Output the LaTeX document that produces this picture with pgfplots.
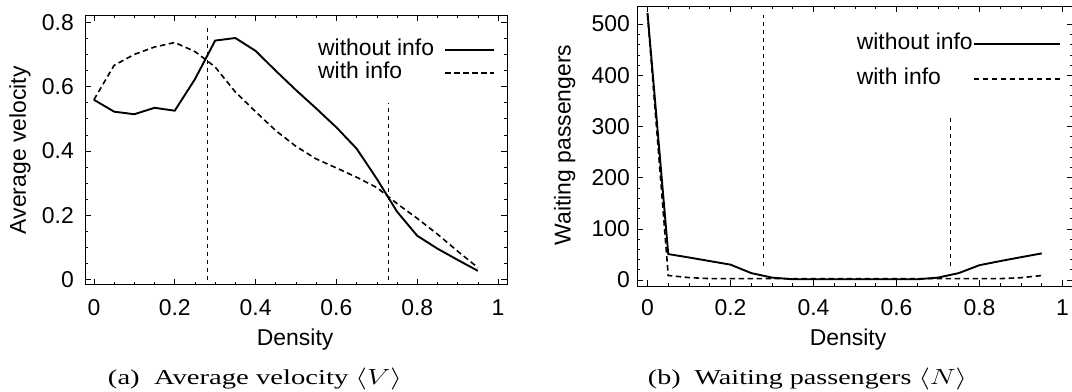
\documentclass[border=0pt]{standalone}
\usepackage{fontspec}
\setmainfont{Liberation Sans}
\newfontfamily\capfont{Liberation Serif}
\usepackage{pgfplots}
\pgfplotsset{compat=1.18}
\pgfplotstableread{
x woinfo winfo
0    0.559 0.559
0.05 0.522 0.666
0.10 0.514 0.700
0.15 0.534 0.723
0.20 0.525 0.737
0.25 0.623 0.709
0.30 0.743 0.661
0.35 0.751 0.583
0.40 0.711 0.522
0.45 0.649 0.463
0.50 0.589 0.414
0.55 0.532 0.375
0.60 0.473 0.347
0.65 0.407 0.318
0.70 0.313 0.286
0.75 0.211 0.236
0.80 0.136 0.190
0.85 0.096 0.141
0.90 0.061 0.088
0.95 0.027 0.037
}\velocity
\pgfplotstableread{
x woinfo winfo
0    522 520
0.05 50.7 8.8
0.10 44 4.7
0.15 37 2.7
0.20 30 2.7
0.25 13.5 2.7
0.30 4.7 2.7
0.35 1.5 2.7
0.40 1.5 2.7
0.45 1.5 2.7
0.50 1.5 2.7
0.55 1.5 2.7
0.60 1.5 2.7
0.65 1.5 2.7
0.70 4.7 2.7
0.75 13.5 2.7
0.80 29 2.7
0.85 37 2.7
0.90 44.6 4.5
0.95 52 8.8
}\waiting
\begin{document}
\begin{tikzpicture}
\path[use as bounding box] (0bp,0bp) rectangle (1072bp,392bp);
\clip (0bp,0bp) rectangle (1072bp,392bp);
\pgfplotsset{
  gp/.style={
    scale only axis,
    axis line style={line width=1bp},
    tick style={line width=0.6bp, black},
    tick align=inside,
    major tick length=6bp, minor tick length=3bp,
    /pgf/number format/assume math mode=true,
    /pgf/number format/fixed,
    tick label style={font=\fontsize{23}{25}\selectfont, inner sep=0pt},
    label style={font=\fontsize{23}{25}\selectfont},
    xmin=-0.022, xmax=1.022,
    xtick={0,0.2,...,1.01},
    xticklabels={0,0.2,0.4,0.6,0.8,1},
    minor x tick num=3,
    xlabel={Density},
    legend cell align=left,
    legend plot pos=right,
    legend style={draw=none, fill=none, font=\fontsize{23}{25}\selectfont,
      nodes={inner sep=0pt, text height=16bp, text depth=5bp}},
    solidline/.style={black, line width=1.9bp},
    dashline/.style={black, line width=1.6bp, dash pattern=on 5.5bp off 3.5bp},
    vline/.style={black, line width=1bp, dash pattern=on 4bp off 4bp},
  }
}
% (a)
\begin{axis}[gp,
  at={(85bp,107bp)}, anchor=south west, width=422bp, height=269.5bp,
  ymin=-0.017, ymax=0.821,
  ytick={0,0.2,0.4,0.6,0.8},
  yticklabels={0,0.2,0.4,0.6,0.8},
  minor y tick num=3,
  yticklabel style={anchor=east, xshift=-11bp},
  xticklabel style={anchor=center, yshift=-23bp},
  ylabel={Average velocity},
  ylabel style={at={(axis description cs:-0.154,0.5)}, anchor=center},
  xlabel style={at={(axis description cs:0.498,-0.204)}, anchor=center},
  legend image code/.code={\draw[#1] (0bp,0bp) -- (49bp,0bp);},
  legend style={at={(axis description cs:0.979,0.920)}, anchor=north east,
    row sep=2bp, /tikz/every odd column/.append style={column sep=10bp}},
]
\addplot[solidline] table[x=x,y=woinfo] {\velocity};
\addlegendentry{without info}
\addplot[dashline] table[x=x,y=winfo] {\velocity};
\addlegendentry{with info}
\addplot[vline, forget plot] coordinates {(0.28,0) (0.28,0.79)};
\addplot[vline, forget plot] coordinates {(0.729,0) (0.729,0.548)};
\end{axis}
% (b)
\begin{axis}[gp,
  at={(637bp,106bp)}, anchor=south west, width=436bp, height=279.8bp,
  xmin=-0.0253, xmax=1.0253,
  ymin=-11.7, ymax=535,
  ytick={0,100,200,300,400,500},
  minor y tick num=4,
  yticklabel style={anchor=east, xshift=-7bp},
  xticklabel style={anchor=center, yshift=-21.6bp},
  ylabel={Waiting passengers},
  ylabel style={at={(axis description cs:-0.166,0.504)}, anchor=center},
  xlabel style={at={(axis description cs:0.484,-0.193)}, anchor=center},
  legend image code/.code={\draw[#1] (0bp,0bp) -- (86bp,0bp);},
  legend style={at={(axis description cs:0.979,0.911)}, anchor=north east,
    row sep=14bp, /tikz/every odd column/.append style={column sep=0bp}},
]
\addplot[solidline] table[x=x,y=woinfo] {\waiting};
\addlegendentry{without info}
\addplot[dashline] table[x=x,y=winfo] {\waiting};
\addlegendentry{with info}
\addplot[vline, forget plot] coordinates {(0.279,27) (0.279,517)};
\addplot[vline, forget plot] coordinates {(0.731,27) (0.731,321)};
\end{axis}
\node[inner sep=0pt, anchor=center] at (255bp,13bp)
  {\resizebox*{294bp}{22bp}{\capfont\fontsize{20}{22}\selectfont (a)\enspace Average velocity $\langle V\rangle$}};
\node[inner sep=0pt, anchor=center] at (807.5bp,13bp)
  {\resizebox*{319bp}{22bp}{\capfont\fontsize{20}{22}\selectfont (b)\enspace Waiting passengers $\langle N\rangle$}};
\end{tikzpicture}
\end{document}
